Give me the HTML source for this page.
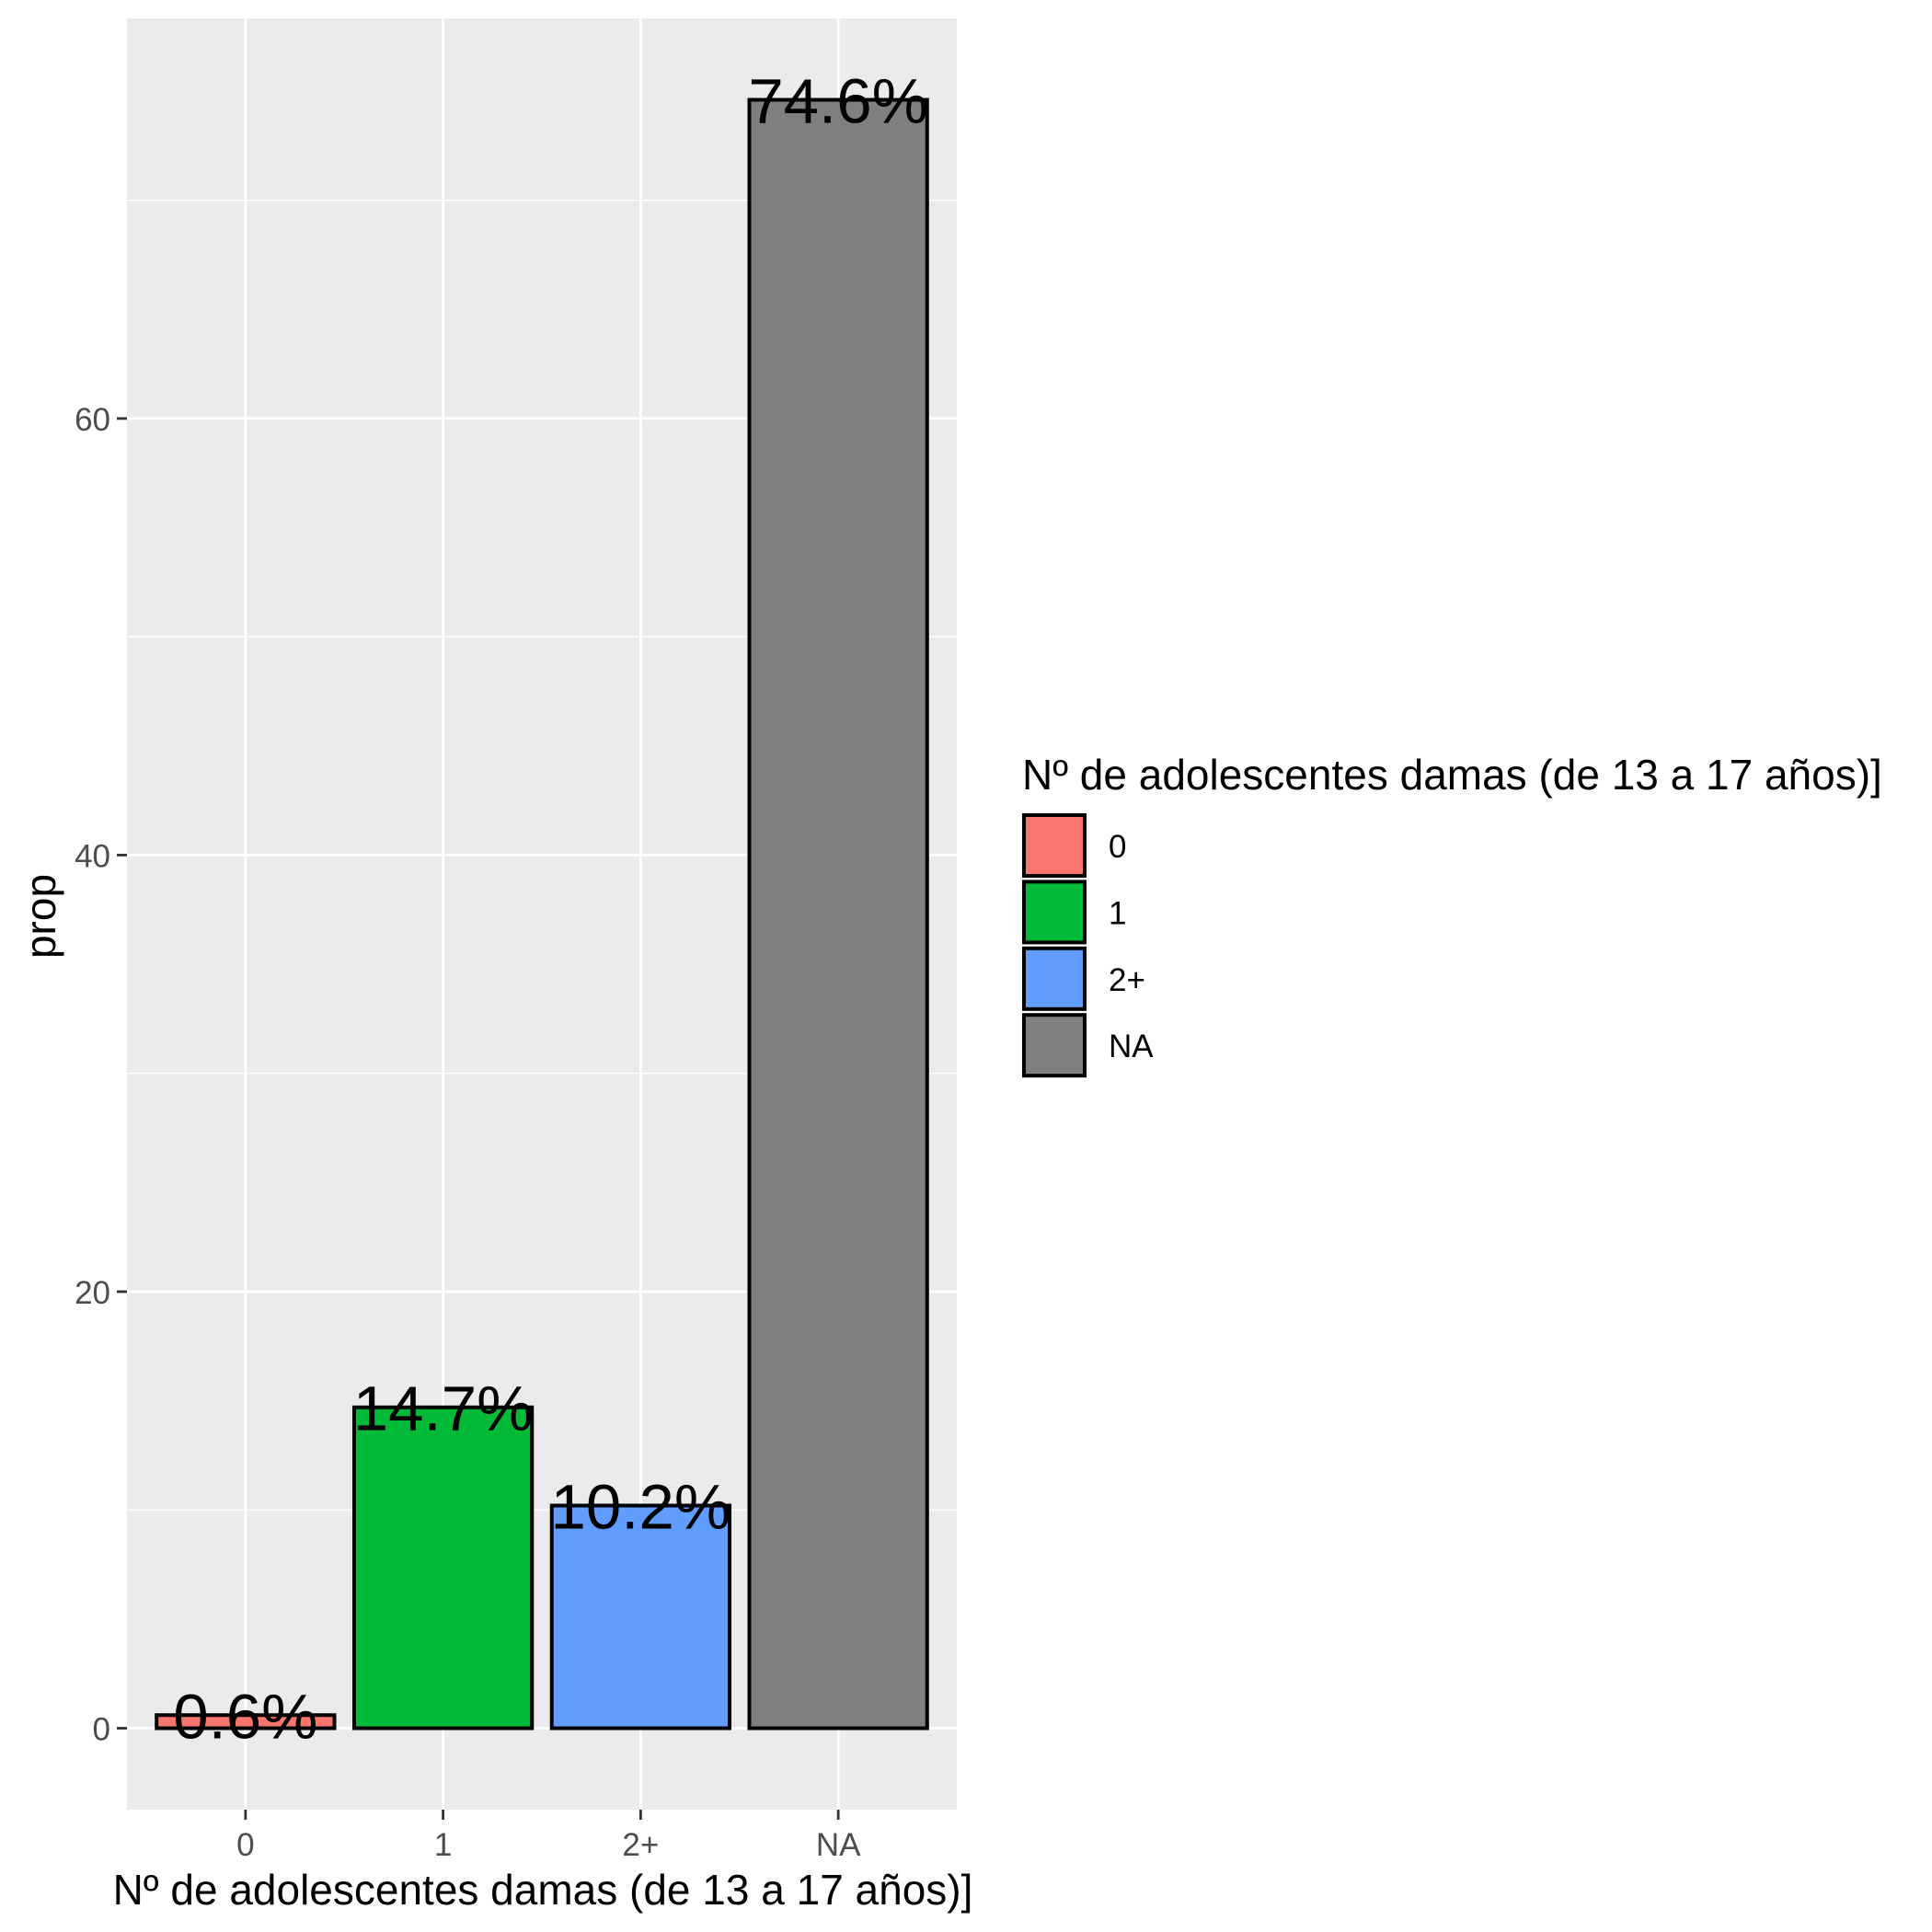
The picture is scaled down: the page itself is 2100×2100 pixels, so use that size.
<!DOCTYPE html>
<html><head><meta charset="utf-8"><style>body{margin:0;background:#fff}svg{display:block;font-family:"Liberation Sans",Arial,sans-serif}</style></head>
<body>
<svg id="chart" width="2100" height="2100" viewBox="0 0 2100 2100">
<rect x="138" y="20" width="902" height="1947" fill="#ebebeb"/>
<g id="grid"></g><g id="bars"></g><g id="labels"></g><g id="axes"></g>
<text x="590" y="2070" font-size="46" text-anchor="middle" fill="#000">Nº de adolescentes damas (de 13 a 17 años)]</text>
<text transform="translate(60,996) rotate(-90)" font-size="46" text-anchor="middle" fill="#000">prop</text>
<g id="legend">
<text x="1111" y="858" font-size="46" fill="#000">Nº de adolescentes damas (de 13 a 17 años)]</text>
</g>
</svg>
<script>
const categories = ["0","1","2+","NA"];
const values = [0.6,14.7,10.2,74.6];
const valueLabels = ["0.6%","14.7%","10.2%","74.6%"];
const colors = ["#F8766D","#00BA38","#619CFF","#7F7F7F"];
const yTicks = [0,20,40,60];
const yMinor = [10,30,50,70];

const NS="http://www.w3.org/2000/svg";
const L=138,R=1040,T=20,B=1967;
const yMin=-3.73,yMax=78.33;
function y(v){return B-(v-yMin)/(yMax-yMin)*(B-T);}
const n=categories.length;
function x(i){return L+(i+1-0.4)/(n+0.2)*(R-L);}
const step=(R-L)/(n+0.2);
function mk(tag,attrs,parent,text){const e=document.createElementNS(NS,tag);for(const k in attrs)e.setAttribute(k,attrs[k]);if(text!==undefined)e.textContent=text;document.getElementById(parent).appendChild(e);return e;}
yMinor.forEach(v=>{const e=mk('line',{x1:L,x2:R,y1:y(v),y2:y(v),stroke:'#fff','stroke-width':1.4},'grid');

});
yTicks.forEach(v=>{const e=mk('line',{x1:L,x2:R,y1:y(v),y2:y(v),stroke:'#fff','stroke-width':2.8},'grid');


const t=mk('line',{x1:L-11,x2:L,y1:y(v),y2:y(v),stroke:'#333','stroke-width':2.8},'axes');


const l=mk('text',{x:L-18,y:y(v)+13,'font-size':35,'text-anchor':'end',fill:'#4d4d4d'},'axes',String(v));

});
categories.forEach((c,i)=>{const cx=x(i);
const g=mk('line',{x1:cx,x2:cx,y1:T,y2:B,stroke:'#fff','stroke-width':2.8},'grid');


const hw=0.45*step;
const b=mk('rect',{x:cx-hw,y:y(values[i]),width:2*hw,height:y(0)-y(values[i]),fill:colors[i],stroke:'#000','stroke-width':4},'bars');


const lb=mk('text',{x:cx,y:y(values[i])+25,'font-size':69,'text-anchor':'middle',fill:'#000'},'labels',valueLabels[i]);


const t=mk('line',{x1:cx,x2:cx,y1:B,y2:B+11,stroke:'#333','stroke-width':2.8},'axes');


const tl=mk('text',{x:cx,y:B+50,'font-size':35,'text-anchor':'middle',fill:'#4d4d4d'},'axes',c);


const ky=886+i*72.4;
const k=mk('rect',{x:1113,y:ky,width:66,height:66,fill:colors[i],stroke:'#000','stroke-width':4},'legend');


const kt=mk('text',{x:1205,y:ky+46,'font-size':35,fill:'#000'},'legend',c);

});
</script>
</body></html>
